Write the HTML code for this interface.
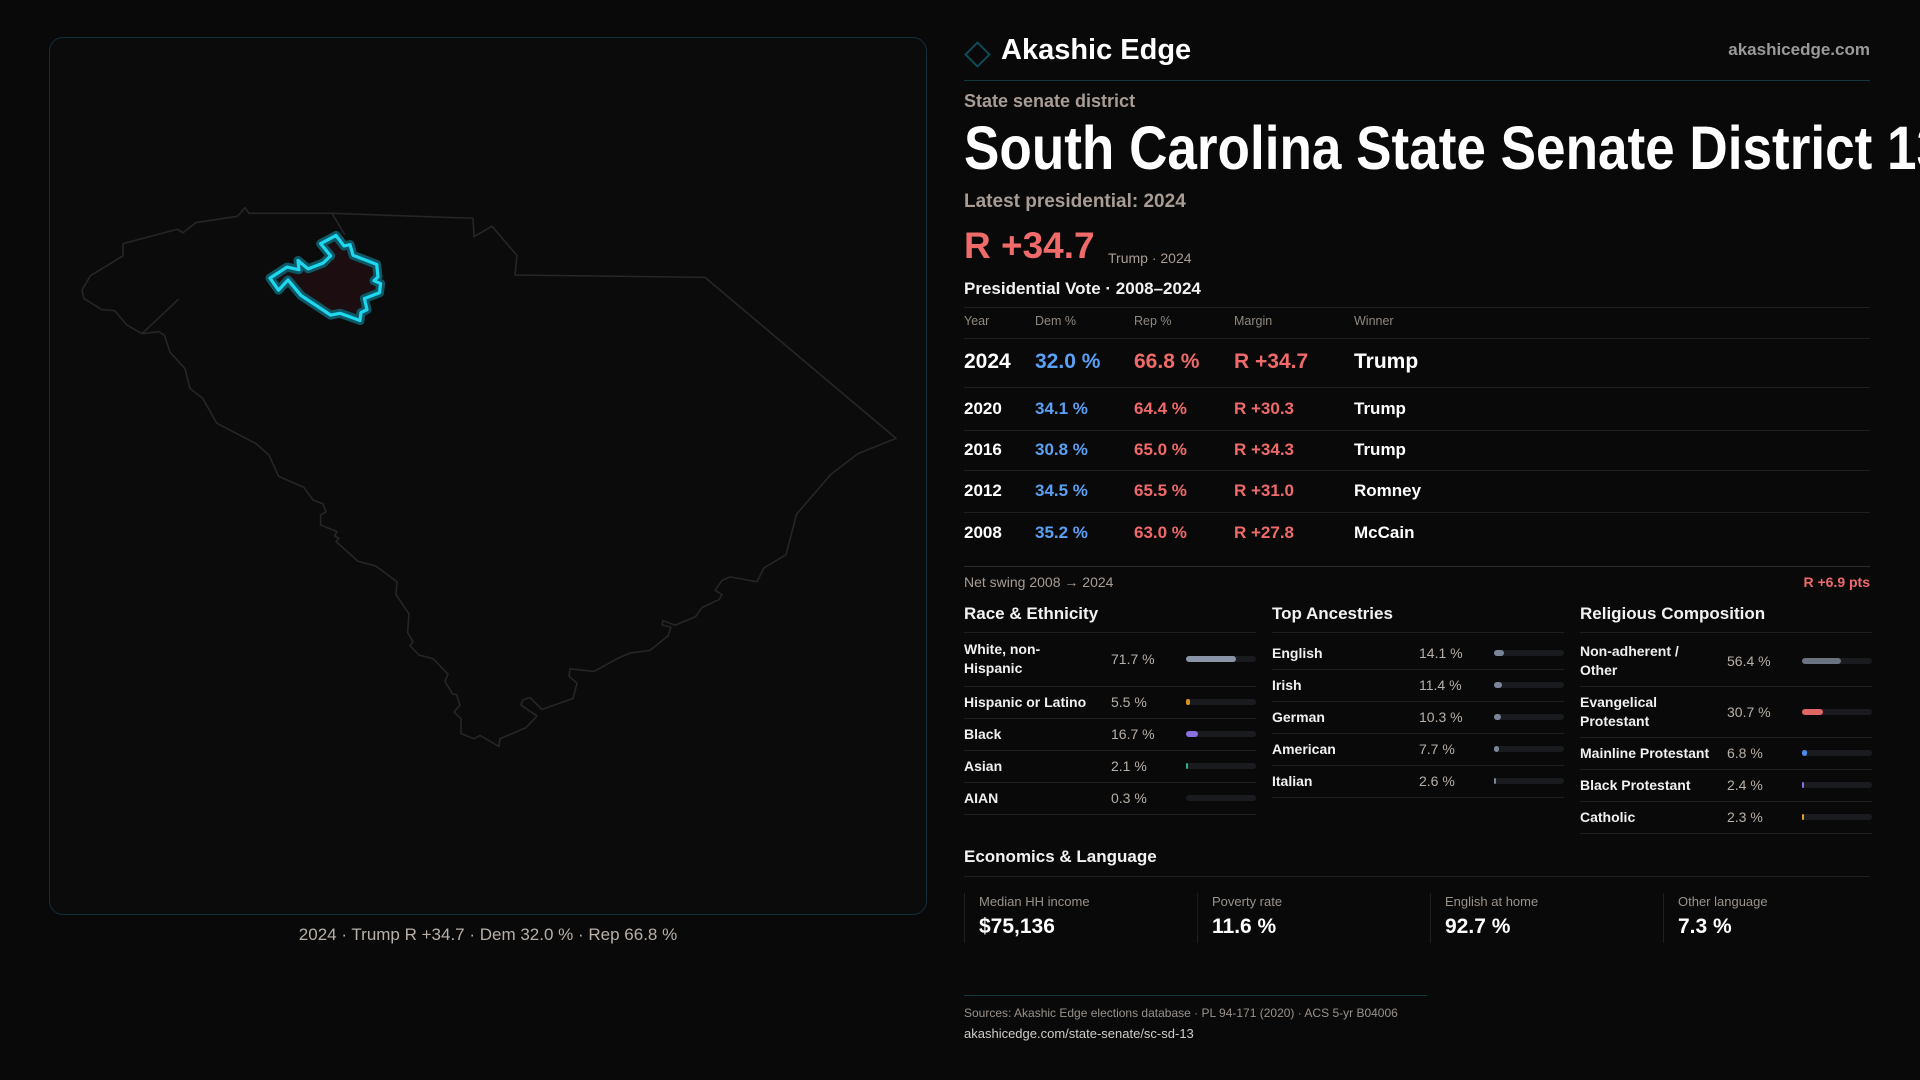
<!DOCTYPE html>
<html><head><meta charset="utf-8">
<style>
*{margin:0;padding:0;box-sizing:border-box}
body{width:1920px;height:1080px;background:#09090a;font-family:"Liberation Sans",sans-serif;color:#f2f2f2;position:relative;overflow:hidden}
.abs{position:absolute;white-space:nowrap}
.rule{position:absolute;height:1px;background:#1e1f22}
.gray{color:#a89c94}
.dem{color:#5aa0f5}.rep{color:#f06a6a}
.sec{font-size:17px;font-weight:bold;color:#f2f2f2}
.lbl{font-size:14px;font-weight:bold;color:#f0f0f0;line-height:19px}
.val{font-size:14px;color:#b8b0a8}
svg *{vector-effect:non-scaling-stroke}
</style></head>
<body>
<div class="abs" style="left:49px;top:37px;width:878px;height:878px;border:1px solid #12303a;border-radius:14px;background:#0b0b0c"></div>
<svg class="abs" style="left:0;top:0" width="960" height="1080">
<g transform="translate(0,180) scale(1,0.6597) translate(0,-180)">
<polygon fill="none" stroke="#262628" stroke-width="1.6" stroke-linejoin="round" points="82,347 90.5,325 123,295 123,276.5 177.5,254.6 183,260 196,244.5 237.5,235 245,222 249,230.5 332,230.5 473,238 474,266 492,250 517,294.5 515,324 705,327.6 896,571.7 858,594.7 831,626 796.5,686.7 786,748 764,768 757,789 730,781.6 722,787 715,802 722,808.5 719,816 702,828 695.5,842 675,855 663,848 662,854.5 671,858 668,871 650,893 630,897 618,905 594,925 570,921 569,932 577,943 573,966 542,982.5 530,964.5 522.6,968.5 521,975.7 537,992.6 525.5,1010.5 500,1027 499,1038.6 480,1022 474,1027 461,1019 461,996.5 454,986.5 460,976 456.5,960 452.5,959 445,940 448,929 433,905.6 419,900 410,886 413,880 407.6,865.8 409,837.7 396,808.5 397,789 375.6,765 358,758 336,728 339,723 334.6,719.8 337,713 320.6,703 320.6,688 326,683 323,671 313,665 303.7,645.8 278.5,629 269,597 256,579.6 216.8,548.7 202.7,511 190,496 185,466 170,441 164.6,415.7 159,410 142,413 127,400 114.6,378 101.7,376.4 83.8,359.6"/>
<polyline fill="none" stroke="#262628" stroke-width="1.6" points="332,230.5 344.7,263"/>
<polyline fill="none" stroke="#262628" stroke-width="1.6" points="142,413 178.6,360.7"/>
<polygon fill="#1c0e10" stroke="#0e5866" stroke-width="9" stroke-linejoin="round" points="336,264 344,280 350,278 353,294 376.7,308 378,327 374,332.6 380.6,337 379.5,351 364.4,359.6 367,376.4 361,381 360,393 340,382 330.7,384.8 301,355 288,331.5 278.5,347 270,328.7 287,312 299,316 298,302 308,314.7 323,306 330.7,295 320.6,276.5"/>
<polygon fill="none" stroke="#1ed8f0" stroke-width="3.2" stroke-linejoin="round" points="336,264 344,280 350,278 353,294 376.7,308 378,327 374,332.6 380.6,337 379.5,351 364.4,359.6 367,376.4 361,381 360,393 340,382 330.7,384.8 301,355 288,331.5 278.5,347 270,328.7 287,312 299,316 298,302 308,314.7 323,306 330.7,295 320.6,276.5"/>
</g>
</svg>
<div class="abs" style="left:0;width:976px;text-align:center;top:925px;font-size:17px;color:#b8b0a8">2024 · Trump R +34.7 · Dem 32.0 % · Rep 66.8 %</div>

<div class="abs" style="left:968px;top:45px;width:19px;height:19px;border:2px solid #0f4a55;transform:rotate(45deg)"></div>
<div class="abs" style="left:1001px;top:34px;font-size:29px;font-weight:bold;color:#fff">Akashic Edge</div>
<div class="abs" style="right:50px;top:40px;font-size:17px;font-weight:bold;color:#9a9a9a">akashicedge.com</div>
<div class="rule" style="left:964px;top:80px;width:906px;background:#12373e"></div>
<div class="abs gray" style="left:964px;top:91px;font-size:18px;font-weight:bold">State senate district</div>
<div class="abs" style="left:964px;top:113px;font-size:61px;font-weight:bold;color:#fff;transform:scaleX(0.87);transform-origin:left top">South Carolina State Senate District 13</div>
<div class="abs gray" style="left:964px;top:191px;font-size:19px;font-weight:bold">Latest presidential: 2024</div>
<div class="abs rep" style="left:964px;top:225px;font-size:37px;font-weight:bold">R +34.7</div>
<div class="abs gray" style="left:1108px;top:250px;font-size:14px">Trump · 2024</div>
<div class="abs" style="left:964px;top:279px;font-size:17px;font-weight:bold">Presidential Vote · 2008–2024</div>
<div class="rule" style="left:964px;top:307px;width:906px"></div>
<div id="tbl"></div>
<div class="rule" style="left:964px;top:566px;width:906px;background:#2a2b2e"></div>
<div class="abs gray" style="left:964px;top:574px;font-size:14px">Net swing 2008 → 2024</div>
<div class="abs rep" style="right:50px;top:574px;font-size:14px;font-weight:bold">R +6.9 pts</div>

<div class="abs sec" style="left:964px;top:604px">Race &amp; Ethnicity</div>
<div class="abs sec" style="left:1272px;top:604px">Top Ancestries</div>
<div class="abs sec" style="left:1580px;top:604px">Religious Composition</div>
<div id="demo"></div>

<div class="abs sec" style="left:964px;top:847px">Economics &amp; Language</div>
<div class="rule" style="left:964px;top:876px;width:906px"></div>
<div id="econ"></div>
<div class="rule" style="left:964px;top:995px;width:463px;background:#12373e"></div>
<div class="abs gray" style="left:964px;top:1006px;font-size:12px;color:#9a928a">Sources: Akashic Edge elections database · PL 94-171 (2020) · ACS 5-yr B04006</div>
<div class="abs" style="left:964px;top:1026px;font-size:13px;color:#d0ccc8">akashicedge.com/state-senate/sc-sd-13</div>

<script>
const years=["2024","2020","2016","2012","2008"];
const demPct=[32.0,34.1,30.8,34.5,35.2];
const repPct=[66.8,64.4,65.0,65.5,63.0];
const margins=[34.7,30.3,34.3,31.0,27.8];
const winners=["Trump","Trump","Trump","Romney","McCain"];
const raceLabels=["White, non-\nHispanic","Hispanic or Latino","Black","Asian","AIAN"];
const raceValues=[71.7,5.5,16.7,2.1,0.3];
const ancLabels=["English","Irish","German","American","Italian"];
const ancValues=[14.1,11.4,10.3,7.7,2.6];
const relLabels=["Non-adherent /\nOther","Evangelical\nProtestant","Mainline Protestant","Black Protestant","Catholic"];
const relValues=[56.4,30.7,6.8,2.4,2.3];
const econLabels=["Median HH income","Poverty rate","English at home","Other language"];
const econValues=["$75,136","11.6 %","92.7 %","7.3 %"];

function div(parent,css,txt){const d=document.createElement('div');d.className='abs';d.style.cssText=css;if(txt!==undefined)d.textContent=txt;parent.appendChild(d);return d;}
const tbl=document.getElementById('tbl');
const colX=[964,1035,1134,1234,1354];
const hdr=["Year","Dem %","Rep %","Margin","Winner"];
hdr.forEach((h,i)=>{const d=div(tbl,`left:${colX[i]}px;top:314px;font-size:12.5px;color:#8f8880`,h);

});
const rowTop=[338,387,430,470,512];const rowBot=[387,430,470,512,553];
years.forEach((y,i)=>{
 const cy=(rowTop[i]+rowBot[i])/2;const fs=i===0?21:17;const t=cy-fs*0.58;
 const cells=[[y,'#fff'],[demPct[i].toFixed(1)+' %','#5aa0f5'],[repPct[i].toFixed(1)+' %','#f06a6a'],['R +'+margins[i].toFixed(1),'#f06a6a'],[winners[i],'#fff']];
 cells.forEach((c,j)=>{const d=div(tbl,`left:${colX[j]}px;top:${t}px;font-size:${fs}px;font-weight:bold;color:${c[1]}`,c[0]);
 
 });
 const r=div(tbl,`left:964px;top:${rowTop[i]}px;width:906px;height:1px;background:#1e1f22`);
 
 
});
const demo=document.getElementById('demo');
function group(x,labels,values,colors,rowH,startY,name){
 div(demo,`left:${x}px;top:632px;width:292px;height:1px;background:#1e1f22`);
 let y=startY;
 labels.forEach((l,i)=>{
  const two=l.includes('\n');const h=two?rowH[1]:rowH[0];
  const cy=y+h/2;
  const lb=div(demo,`left:${x}px;top:${cy-(two?19:9.5)}px;white-space:pre`,l);lb.className='abs lbl';
  
  
  const v=div(demo,`left:${x+147}px;top:${cy-8}px`,values[i].toFixed(1)+' %');v.className='abs val';
  
  
  const tr=div(demo,`left:${x+222}px;top:${cy-3}px;width:70px;height:6px;border-radius:3px;background:#1a1b1e`);
  
  
  const w=Math.max(2,values[i]/100*70);
  const b=div(demo,`left:${x+222}px;top:${cy-3}px;width:${w}px;height:6px;border-radius:3px;background:${values[i]<0.5?'transparent':colors[i]}`);
  
  
  y+=h;
  div(demo,`left:${x}px;top:${y}px;width:292px;height:1px;background:#1e1f22`);
 });
}
group(964,raceLabels,raceValues,['#8a95a8','#d4921c','#8a6fe0','#27b08a','#555'],[32,54],632,'race');
group(1272,ancLabels,ancValues,['#7b8598','#7b8598','#7b8598','#7b8598','#7b8598'],[32,54],637,'ancestry');
group(1580,relLabels,relValues,['#6b7280','#e06666','#4a8ef0','#8a6fe0','#e0a020'],[32,51],635,'religion');
const econ=document.getElementById('econ');
econLabels.forEach((l,i)=>{
 const x=964+i*233;
 const c=div(econ,`left:${x}px;top:893px;width:1px;height:50px;background:#1e1f22`);
 
 
 const a=div(econ,`left:${x+15}px;top:894px;font-size:13px;color:#9a928a`,l);
 
 
 const b=div(econ,`left:${x+15}px;top:915px;font-size:21px;font-weight:bold;color:#fff`,econValues[i]);
 
 
});
</script>
</body></html>
